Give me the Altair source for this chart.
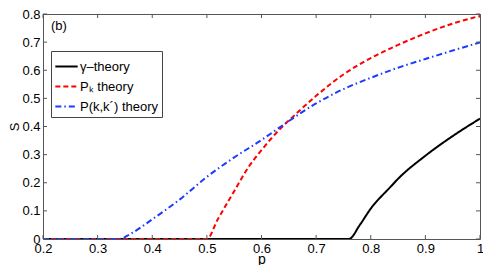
import altair as alt
import pandas as pd

# gamma-theory
p_gamma = [0.2, 0.76, 0.78, 0.8, 0.836, 0.85, 0.9, 0.95, 1.0]
s_gamma = [0.0, 0.0, 0.05, 0.108, 0.185, 0.214, 0.296, 0.366, 0.428]
# P_k theory
p_pk = [0.2, 0.5, 0.52, 0.539, 0.55, 0.576, 0.6, 0.636, 0.661, 0.7, 0.75, 0.8, 0.85, 0.9, 0.95, 1.0]
s_pk = [0.0, 0.0, 0.07, 0.134, 0.17, 0.255, 0.316, 0.395, 0.441, 0.509, 0.585, 0.643, 0.69, 0.731, 0.766, 0.793]
# P(k,k') theory
p_pkk = [0.2, 0.34, 0.36, 0.4, 0.45, 0.5, 0.55, 0.6, 0.64, 0.7, 0.75, 0.8, 0.85, 0.9, 0.95, 1.0]
s_pkk = [0.0, 0.0, 0.018, 0.07, 0.14, 0.221, 0.29, 0.352, 0.406, 0.482, 0.533, 0.573, 0.609, 0.64, 0.67, 0.699]

series_names = ["γ–theory", "Pₖ theory", "P(k,k´) theory"]
series_colors = ["#000000", "#ff0000", "#1a3cff"]
series_dash = [[1, 0], [5, 3], [6, 3, 1.5, 3]]

x_ticks = [0.2, 0.3, 0.4, 0.5, 0.6, 0.7, 0.8, 0.9, 1.0]
y_ticks = [0.0, 0.1, 0.2, 0.3, 0.4, 0.5, 0.6, 0.7, 0.8]

rows = []
for name, ps, ss in zip(series_names, [p_gamma, p_pk, p_pkk], [s_gamma, s_pk, s_pkk]):
    for i, (p, s) in enumerate(zip(ps, ss)):
        rows.append({"series": name, "p": p, "S": s, "order": i})
df = pd.DataFrame(rows)

W, H = 437, 225
FONT = "Liberation Sans"

xscale = alt.Scale(domain=[0.2, 1.0], nice=False)
yscale = alt.Scale(domain=[0.0, 0.8], nice=False)

label_expr = "datum.value == 0 ? '0' : (datum.value == 1 ? '1' : format(datum.value, '.1f'))"

xaxis = alt.Axis(values=x_ticks, labelExpr=label_expr, tickSize=0, domain=False,
                 grid=False, title="p", labelFontSize=13, titleFontSize=14,
                 titleFontWeight="normal", labelPadding=3, titlePadding=-3,
                 labelOverlap=False, labelFlush=False,
                 labelFont=FONT, titleFont=FONT, labelColor="#000", titleColor="#000")
yaxis = alt.Axis(values=y_ticks, labelExpr=label_expr, tickSize=0, domain=False,
                 grid=False, title="S", labelFontSize=13, titleFontSize=13,
                 titleFontWeight="normal", labelPadding=3, titlePadding=0,
                 labelOverlap=False, labelFlush=False,
                 labelFont=FONT, titleFont=FONT, labelColor="#000", titleColor="#000")

lines = alt.Chart(df).mark_line(strokeWidth=2, clip=True, interpolate="monotone").encode(
    x=alt.X("p:Q", scale=xscale, axis=xaxis),
    y=alt.Y("S:Q", scale=yscale, axis=yaxis),
    color=alt.Color("series:N", scale=alt.Scale(domain=series_names, range=series_colors),
                    legend=alt.Legend(title=None, orient="none", legendX=8, legendY=37,
                                      strokeColor="#444", fillColor="white", padding=3,
                                      labelFont=FONT, labelFontSize=13, labelColor="#000",
                                      symbolType="stroke", symbolSize=500, symbolStrokeWidth=2,
                                      rowPadding=0, labelOffset=1, cornerRadius=0)),
    strokeDash=alt.StrokeDash("series:N", scale=alt.Scale(domain=series_names, range=series_dash),
                              legend=None),
    order="order:Q",
)

xt = pd.DataFrame({"p": x_ticks})
yt = pd.DataFrame({"S": y_ticks})
tick_col = "#555"
bot = alt.Chart(xt).mark_rule(color=tick_col, strokeWidth=1).encode(
    x=alt.X("p:Q", scale=xscale, axis=xaxis), y=alt.value(H), y2=alt.value(H - 4))
top = alt.Chart(xt).mark_rule(color=tick_col, strokeWidth=1).encode(
    x=alt.X("p:Q", scale=xscale, axis=xaxis), y=alt.value(0), y2=alt.value(4))
left = alt.Chart(yt).mark_rule(color=tick_col, strokeWidth=1).encode(
    y=alt.Y("S:Q", scale=yscale, axis=yaxis), x=alt.value(0), x2=alt.value(4))
right = alt.Chart(yt).mark_rule(color=tick_col, strokeWidth=1).encode(
    y=alt.Y("S:Q", scale=yscale, axis=yaxis), x=alt.value(W), x2=alt.value(W - 4))

label_df = pd.DataFrame({"t": ["(b)"]})
panel = alt.Chart(label_df).mark_text(align="left", baseline="middle", fontSize=13, font=FONT,
                                      color="#000").encode(
    text="t:N", x=alt.value(8), y=alt.value(12))

chart = alt.layer(lines, bot, top, left, right, panel).properties(
    width=W, height=H,
    padding={"left": 35, "top": 6, "right": 3, "bottom": 26},
    autosize=alt.AutoSizeParams(type="none"),
).configure_view(stroke="#555", strokeWidth=1).resolve_scale(x="shared", y="shared")

chart.save("out.html", embed_options={"renderer": "svg", "actions": False})
